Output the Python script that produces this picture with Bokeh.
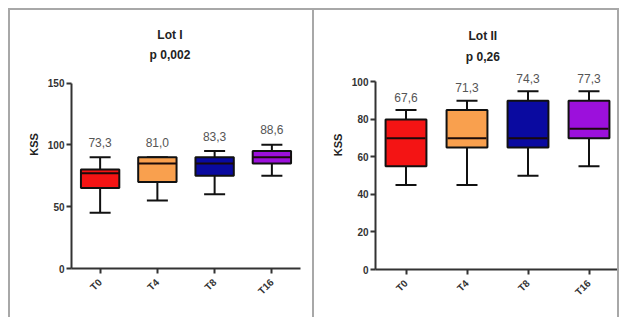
import math
from bokeh.plotting import figure
from bokeh.models import (ColumnDataSource, FixedTicker, Range1d, FactorRange,
                          LabelSet, Label)
from bokeh.core.properties import value
from bokeh.layouts import row
from bokeh.embed import file_html
from bokeh.resources import INLINE

categories = ["T0", "T4", "T8", "T16"]
colors = ["#f41414", "#f9a04e", "#0a0aa0", "#9c10dc"]

lot1_lower = [45, 55, 60, 75]
lot1_q1 = [65, 70, 75, 85]
lot1_median = [77, 85, 85, 90]
lot1_q3 = [80, 90, 90, 95]
lot1_upper = [90, 90, 95, 100]
lot1_means = ["73,3", "81,0", "83,3", "88,6"]
lot1_ticks = [0, 50, 100, 150]

lot2_lower = [45, 45, 50, 55]
lot2_q1 = [55, 65, 65, 70]
lot2_median = [70, 70, 70, 75]
lot2_q3 = [80, 85, 90, 90]
lot2_upper = [85, 90, 95, 95]
lot2_means = ["67,6", "71,3", "74,3", "77,3"]
lot2_ticks = [0, 20, 40, 60, 80, 100]

FONT = "Liberation Sans"
BORDER = "2px solid #a8a8a8"


def panel(title1, title2, lower, q1, med, q3, upper, means, ticks, ymax,
          fw, fh, px_per_unit, bl, br, bt, bb, title_x, label_off, title_offs,
          styles):
    src = ColumnDataSource(dict(cat=categories, lower=lower, q1=q1, med=med,
                                q3=q3, upper=upper, lab=means, color=colors))
    ytop = fh / px_per_unit
    p = figure(x_range=FactorRange(*categories, range_padding=0),
               y_range=Range1d(0, ytop), frame_width=fw, frame_height=fh,
               min_border_left=bl, min_border_right=br, min_border_top=bt,
               min_border_bottom=bb, toolbar_location=None,
               output_backend="svg", title=None)
    p.outline_line_color = None
    p.xgrid.grid_line_color = None
    p.ygrid.grid_line_color = None
    p.background_fill_color = "white"
    p.border_fill_color = "white"

    # whiskers
    p.segment(x0="cat", y0="q3", x1="cat", y1="upper", source=src,
              line_color="#111111", line_width=2)
    p.segment(x0="cat", y0="lower", x1="cat", y1="q1", source=src,
              line_color="#111111", line_width=2)
    p.scatter(x="cat", y="upper", source=src, marker="dash", size=21,
              line_color="#111111", line_width=2)
    p.scatter(x="cat", y="lower", source=src, marker="dash", size=21,
              line_color="#111111", line_width=2)
    # boxes
    p.vbar(x="cat", width=0.67, bottom="q1", top="q3", source=src,
           fill_color="color", line_color="#111111", line_width=2)
    # medians
    p.scatter(x="cat", y="med", source=src, marker="dash", size=39,
              line_color="#1a0a0a", line_width=2)

    labels = LabelSet(x="cat", y="upper", text="lab", source=src,
                      y_offset=label_off, text_align="center",
                      text_baseline="middle", text_font=value(FONT),
                      text_font_size=value("12px"),
                      text_color=value("#555555"))
    p.add_layout(labels)

    for txt, off in zip((title1, title2), title_offs):
        p.add_layout(Label(x=title_x, y=ymax, y_offset=off,
                           text=txt, text_align="center",
                           text_baseline="middle", text_font=FONT,
                           text_font_style="bold", text_font_size="12px",
                           text_color="#222222"))

    for ax in (p.xaxis[0], p.yaxis[0]):
        ax.axis_line_color = "#333333"
        ax.axis_line_width = 2
        ax.major_tick_line_color = "#333333"
        ax.major_tick_line_width = 2
        ax.major_tick_out = 5
        ax.major_tick_in = 0
        ax.minor_tick_line_color = None
        ax.major_label_text_font = FONT
        ax.major_label_text_font_style = "bold"
        ax.major_label_text_font_size = "10px"
        ax.major_label_text_color = "#333333"
        ax.major_label_standoff = 2

    p.yaxis.ticker = FixedTicker(ticks=ticks)
    p.yaxis.bounds = (0, ymax)
    p.yaxis.axis_label = "KSS"
    p.yaxis.axis_label_text_font = FONT
    p.yaxis.axis_label_text_font_style = "bold"
    p.yaxis.axis_label_text_font_size = "11px"
    p.yaxis.axis_label_text_color = "#222222"
    p.yaxis.axis_label_standoff = 5
    p.xaxis.major_label_orientation = math.pi / 4
    p.xaxis.major_label_standoff = 7
    p.styles = styles
    return p


p1 = panel("Lot I", "p 0,002", lot1_lower, lot1_q1, lot1_median, lot1_q3,
           lot1_upper, lot1_means, lot1_ticks, 150,
           227, 246, 184 / 150, 61, 14, 9, 52, 1.72, 15, (48, 28),
           {"border-top": BORDER, "border-left": BORDER})
p2 = panel("Lot II", "p 0,26", lot2_lower, lot2_q1, lot2_median, lot2_q3,
           lot2_upper, lot2_means, lot2_ticks, 100,
           240, 247, 186 / 100, 61, 2, 10, 50, 1.76, 13, (46, 25),
           {"border-top": BORDER, "border-left": BORDER,
            "border-right": BORDER})

layout = row(p1, p2, spacing=0)
layout.styles = {"margin-left": "8px", "margin-top": "8px"}
open("out.html", "w").write(file_html(layout, INLINE))
